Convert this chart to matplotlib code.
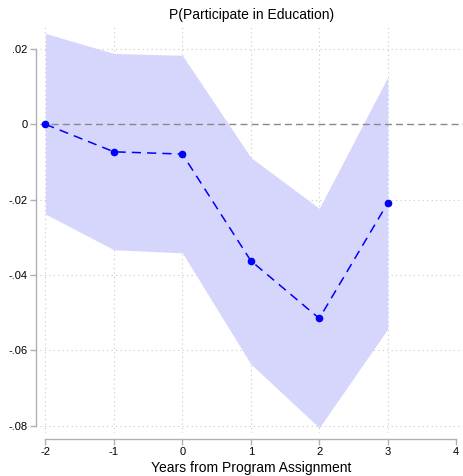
import matplotlib.pyplot as plt
import numpy as np

plt.rcParams['font.family'] = ['Liberation Sans', 'DejaVu Sans']

# Event-study estimates and 95% confidence bounds
years = [-2, -1, 0, 1, 2, 3]
coef = [0.0, -0.0073, -0.0079, -0.0362, -0.0515, -0.0209]
ci_low = [-0.0238, -0.0333, -0.0341, -0.0636, -0.0805, -0.0543]
ci_high = [0.0241, 0.0188, 0.0183, -0.0088, -0.0223, 0.0125]

x_ticks = [-2, -1, 0, 1, 2, 3, 4]
y_ticks = [0.02, 0, -0.02, -0.04, -0.06, -0.08]
y_labels = ['.02', '0', '-.02', '-.04', '-.06', '-.08']

W, H = 463, 476
fig = plt.figure(figsize=(W / 100, H / 100), dpi=100)
left, right, top, bottom = 40, 463, 25, 433
ax = fig.add_axes([left / W, 1 - bottom / H, (right - left) / W, (bottom - top) / H])

ax.fill_between(years, ci_low, ci_high, color='#d6d6fd', linewidth=0, zorder=1)
ax.axhline(0, color='#888888', linestyle=(0, (5, 3)), linewidth=1.0, zorder=2)
ax.plot(years, coef, color='#0000ff', linestyle=(0, (6, 4)), linewidth=1.1,
        marker='o', markersize=4.5, zorder=3)

# dotted grid, no vertical line at the last tick
for xv in x_ticks[:-1]:
    ax.axvline(xv, color='#c8c8c8', linestyle=(0, (1, 3)), linewidth=0.8, zorder=0)
for yv in y_ticks:
    if yv != 0:
        ax.axhline(yv, color='#c8c8c8', linestyle=(0, (1, 3)), linewidth=0.8, zorder=0)

ax.set_xlim(-2.08, 4.10)
ax.set_ylim(-0.0819, 0.02634)

ax.set_xticks(x_ticks)
ax.set_xticklabels([str(v) for v in x_ticks])
ax.set_yticks(y_ticks)
ax.set_yticklabels(y_labels)

for side in ['top', 'right']:
    ax.spines[side].set_visible(False)
ax.spines['left'].set_position(('outward', 3))
ax.spines['bottom'].set_position(('outward', 4))
ax.spines['left'].set_bounds(-0.08, 0.02)
ax.spines['bottom'].set_bounds(-2, 4)
for side in ['left', 'bottom']:
    ax.spines[side].set_color('#b0b0b0')
    ax.spines[side].set_linewidth(1.0)
ax.tick_params(colors='#b0b0b0', labelcolor='black', labelsize=8, length=4, width=1.0, pad=2)

ax.set_title('P(Participate in Education)', fontsize=10, pad=4)
ax.set_xlabel('Years from Program Assignment', fontsize=10, labelpad=3)

fig.savefig('out.png', dpi=100)
